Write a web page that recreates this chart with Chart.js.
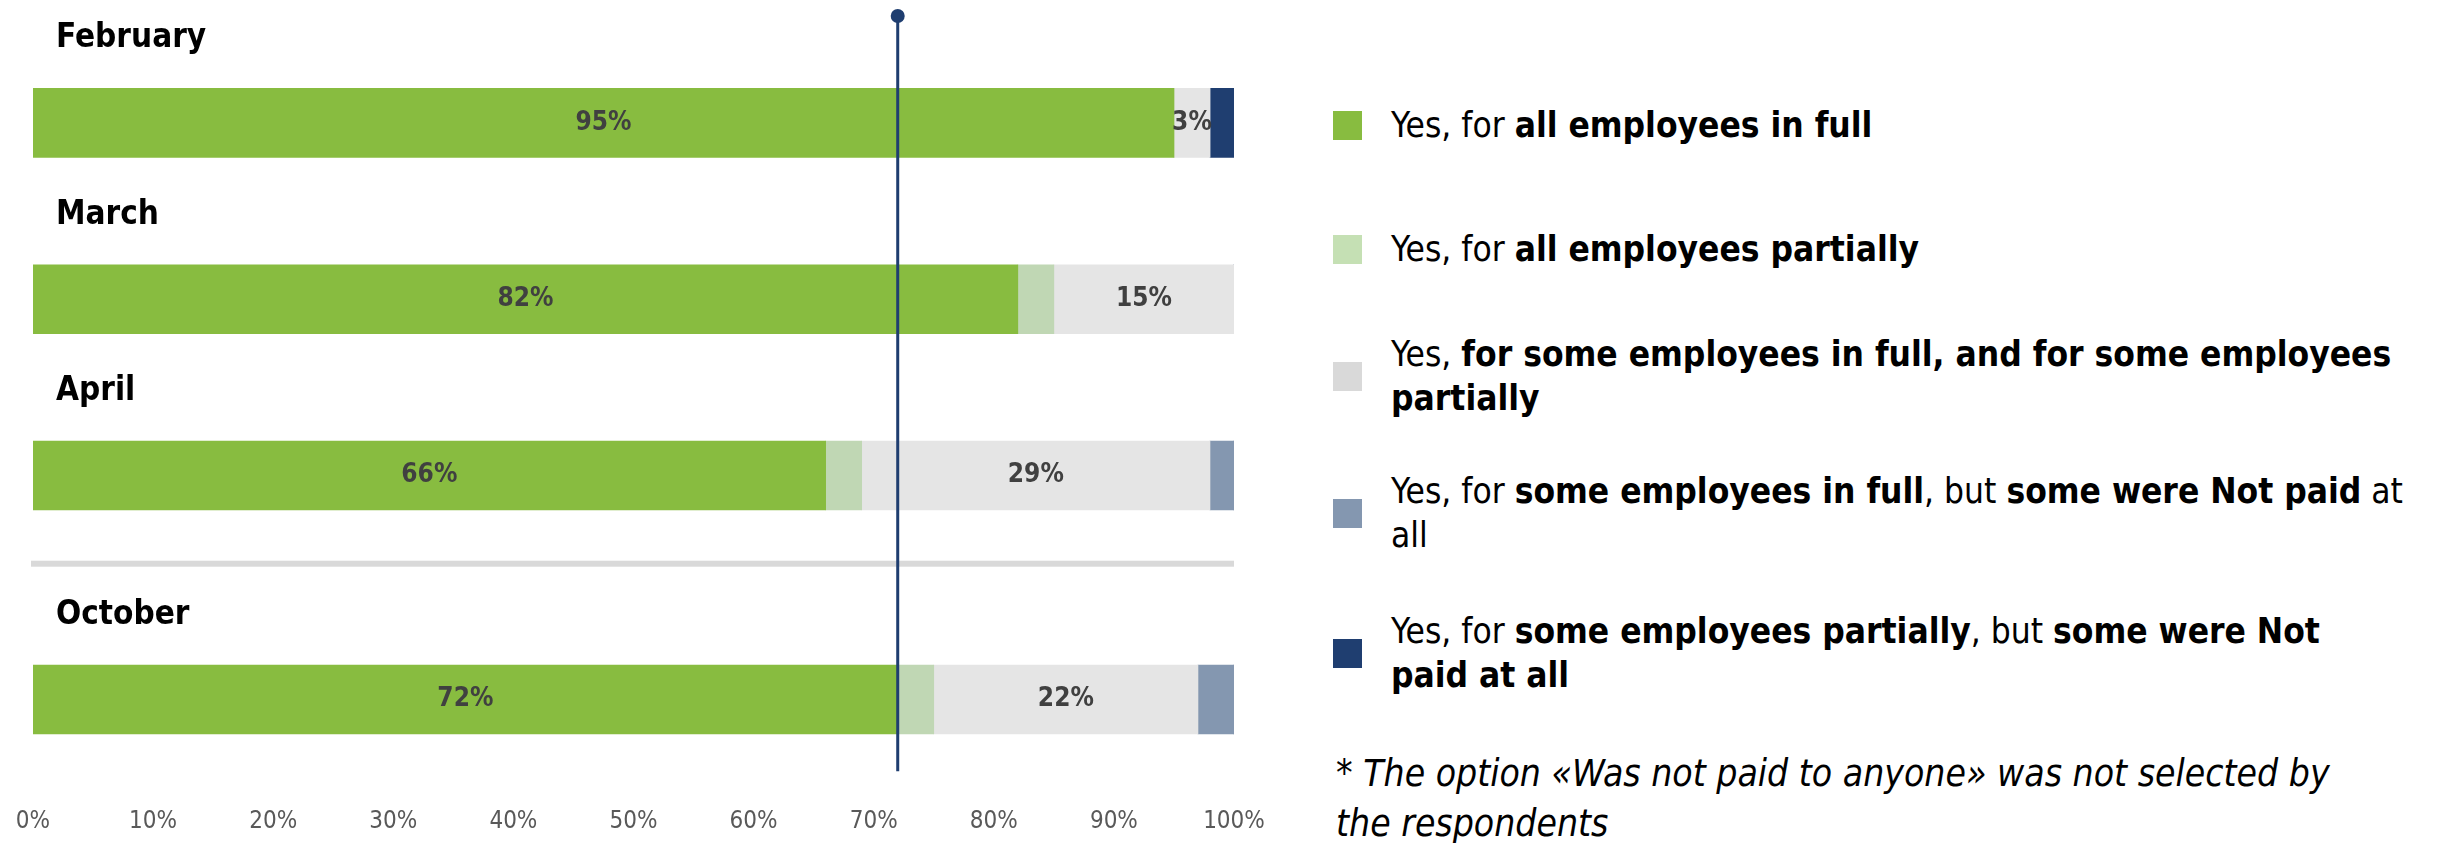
<!DOCTYPE html>
<html>
<head>
<meta charset="utf-8">
<script src="https://cdn.jsdelivr.net/npm/chart.js@4.4.0/dist/chart.umd.min.js"></script>
<style>
  body { margin: 0; background: #fff; font-family: "DejaVu Sans Condensed", "DejaVu Sans", sans-serif; }
  #chart { position: absolute; left: 0; top: 0; }
  .item { position: absolute; left: 1333px; display: flex; align-items: center; transform: translateY(-50%);
          font-size: 35px; line-height: 44px; color: #000; white-space: nowrap; }
  .sw { width: 29px; height: 29px; margin-right: 29px; flex: none; }
  .note { position: absolute; left: 1336px; top: 749px; font-style: italic; font-size: 37px; line-height: 50px; color: #000; white-space: nowrap; }
</style>
</head>
<body>
<canvas id="chart" width="1300" height="843"></canvas>
<div id="legend"></div>
<div class="note">* The option «Was not paid to anyone» was not selected by<br>the respondents</div>
<script>
const MONTHS = ['February', 'March', 'April', 'October'];
const ALL_FULL = [95, 82, 66, 72];
const ALL_PARTIAL = [0, 3, 3, 3];
const SOME_FULL_SOME_PARTIAL = [3, 15, 29, 22];
const SOME_FULL_SOME_UNPAID = [0, 0, 2, 3];
const SOME_PARTIAL_SOME_UNPAID = [2, 0, 0, 0];
const X_TICKS = [0, 10, 20, 30, 40, 50, 60, 70, 80, 90, 100];
const REF_LINE = 72;

const SERIES_NAMES = [
    'Yes, for <b>all employees in full</b>',
    'Yes, for <b>all employees partially</b>',
    'Yes, <b>for some employees in full, and for some employees<br>partially</b>',
    'Yes, for <b>some employees in full</b>, but <b>some were Not paid</b> at<br>all',
    'Yes, for <b>some employees partially</b>, but <b>some were Not<br>paid at all</b>'
];
const SERIES_VALUES = [ALL_FULL, ALL_PARTIAL, SOME_FULL_SOME_PARTIAL, SOME_FULL_SOME_UNPAID, SOME_PARTIAL_SOME_UNPAID];
const COLORS = ['#88bc40', '#c0d7b4', '#e5e5e5', '#8497b0', '#1f3e70'];
const LEGEND_COLORS = ['#88bc40', '#c5e0b4', '#d9d9d9', '#8497b0', '#1f3e70'];
const LABELED = [0, 2];

// layout only: row positions on the vertical scale, October sits after a separator
const ROW_POS = [0, 1, 2, 3.27];
const SEPARATOR_AT = 2.5;
const LEGEND_Y = [125, 249, 376, 513, 653];
const FONT = '"DejaVu Sans Condensed", "DejaVu Sans"';

const legend = document.getElementById('legend');
SERIES_NAMES.forEach((name, i) => {
    const el = document.createElement('div');
    el.className = 'item';
    el.style.top = LEGEND_Y[i] + 'px';
    el.innerHTML = '<div class="sw" style="background:' + LEGEND_COLORS[i] + '"></div><div>' + name + '</div>';
    legend.appendChild(el);
});

const overlay = {
    id: 'overlay',
    beforeDatasetsDraw(chart) {
        const ctx = chart.ctx;
        const x = chart.scales.x, y = chart.scales.y;
        ctx.save();
        // separator between April and October
        const sy = y.getPixelForValue(SEPARATOR_AT);
        ctx.fillStyle = '#d9d9d9';
        ctx.fillRect(x.getPixelForValue(0) - 2, sy - 3, x.getPixelForValue(100) - x.getPixelForValue(0) + 2, 6);
        // month labels above the bars
        ctx.fillStyle = '#000';
        ctx.font = 'bold 33px ' + FONT;
        ctx.textAlign = 'left';
        ctx.textBaseline = 'middle';
        MONTHS.forEach((m, i) => {
            ctx.fillText(m, 56, y.getPixelForValue(ROW_POS[i]) - 84);
        });
        ctx.restore();
    },
    afterDatasetsDraw(chart) {
        const ctx = chart.ctx;
        const x = chart.scales.x;
        const area = chart.chartArea;
        ctx.save();
        ctx.font = 'bold 26px ' + FONT;
        ctx.fillStyle = '#404040';
        ctx.textAlign = 'center';
        ctx.textBaseline = 'middle';
        LABELED.forEach(di => {
            const meta = chart.getDatasetMeta(di);
            meta.data.forEach((bar, i) => {
                const v = SERIES_VALUES[di][i];
                if (!v) return;
                ctx.fillText(v + '%', (bar.x + bar.base) / 2, bar.y);
            });
        });
        // reference line
        const lx = x.getPixelForValue(REF_LINE);
        ctx.strokeStyle = '#1f3e70';
        ctx.lineWidth = 3;
        ctx.beginPath();
        ctx.moveTo(lx, area.top + 16);
        ctx.lineTo(lx, area.bottom - 33);
        ctx.stroke();
        ctx.fillStyle = '#1f3e70';
        ctx.beginPath();
        ctx.arc(lx, area.top + 16, 7, 0, Math.PI * 2);
        ctx.fill();
        ctx.restore();
    }
};

new Chart(document.getElementById('chart'), {
    type: 'bar',
    data: {
        datasets: SERIES_VALUES.map((vals, i) => ({
            label: SERIES_NAMES[i],
            data: vals.map((v, j) => ({ x: v, y: ROW_POS[j] })),
            backgroundColor: COLORS[i],
            borderWidth: 0,
            barThickness: 69
        }))
    },
    options: {
        indexAxis: 'y',
        responsive: false,
        devicePixelRatio: 1,
        animation: false,
        layout: { padding: { left: 33, right: 66, top: 0, bottom: 4 } },
        plugins: { legend: { display: false }, tooltip: { enabled: false } },
        scales: {
            x: {
                type: 'linear', stacked: true, min: 0, max: 100,
                grid: { display: false, drawTicks: false }, border: { display: false },
                afterBuildTicks: s => { s.ticks = X_TICKS.map(v => ({ value: v })); },
                ticks: { callback: v => v + '%', color: '#595959', font: { family: FONT, size: 24 }, padding: 3, maxRotation: 0 }
            },
            y: {
                type: 'linear', stacked: true, reverse: true, offset: false, min: -0.697, max: 3.864,
                display: false
            }
        }
    },
    plugins: [overlay]
});
</script>
</body>
</html>
